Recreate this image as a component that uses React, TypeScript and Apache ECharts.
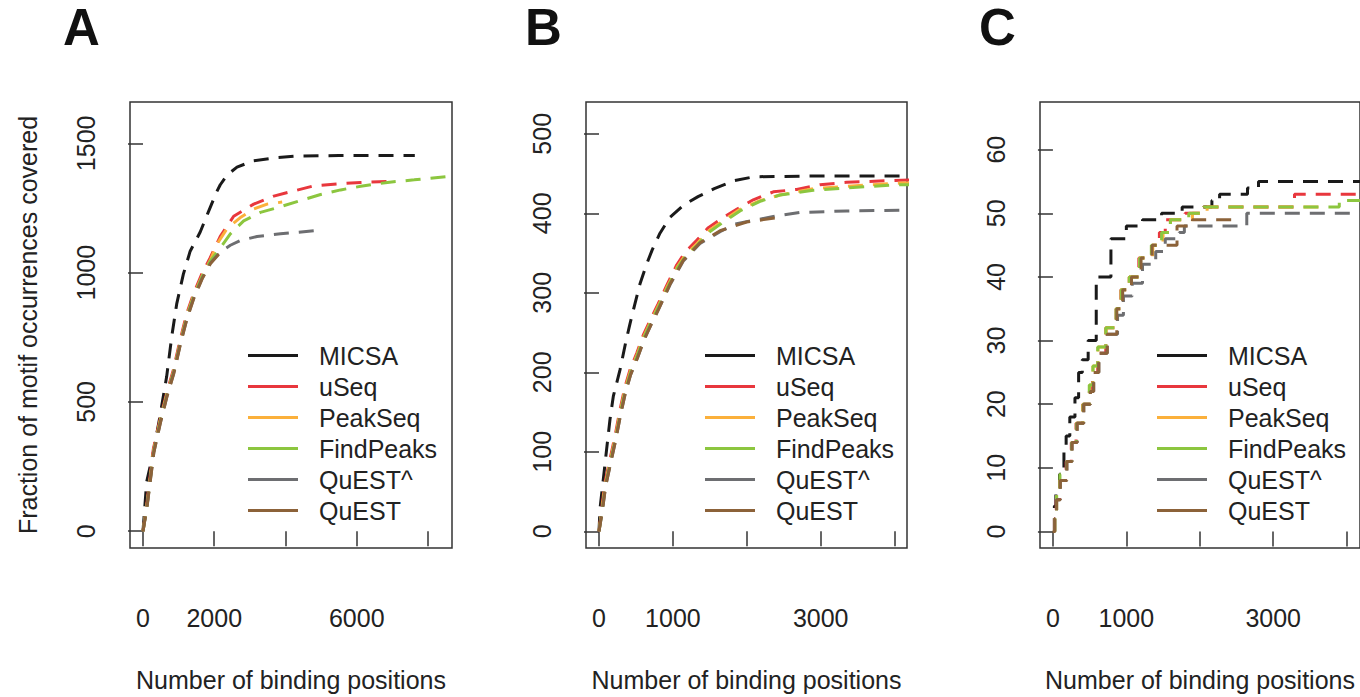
import { useEffect, useRef } from "react";
import * as echarts from "echarts";

type Pt = [number, number];

const methods = ["MICSA", "uSeq", "PeakSeq", "FindPeaks", "QuEST^", "QuEST"];
const colors = ["#1a1a1a", "#e8373d", "#fbb03b", "#8cc63f", "#6d6e71", "#8c6239"];

// Panel A: motif occurrences covered vs number of binding positions
const aMicsa: Pt[] = [[0, 0], [103, 191], [290, 306], [478, 446], [665, 599], [806, 752], [946, 879], [1133, 994], [1324, 1083], [1606, 1157], [1841, 1237], [2067, 1312], [2169, 1340], [2357, 1377], [2638, 1408], [3108, 1433], [3765, 1445], [4328, 1451], [5500, 1453], [7630, 1453]];
const aUseq: Pt[] = [[0, 0], [103, 102], [290, 318], [478, 433], [665, 535], [852, 624], [1040, 739], [1227, 841], [1414, 917], [1649, 994], [1883, 1057], [2169, 1140], [2545, 1218], [3108, 1265], [3671, 1296], [4234, 1316], [4797, 1336], [5455, 1343], [6112, 1349], [6863, 1353]];
const aPeakSeq: Pt[] = [[0, 0], [110, 98], [300, 312], [485, 428], [672, 530], [860, 618], [1048, 732], [1235, 834], [1420, 910], [1655, 986], [1890, 1048], [2075, 1110], [2357, 1170], [2733, 1213], [3108, 1246], [3484, 1265], [3906, 1273]];
const aFindPeaks: Pt[] = [[0, 0], [110, 96], [300, 310], [485, 426], [672, 528], [860, 616], [1048, 730], [1235, 832], [1420, 908], [1655, 984], [1890, 1045], [2169, 1095], [2451, 1150], [2826, 1200], [3296, 1233], [3859, 1255], [4422, 1279], [4985, 1302], [5548, 1320], [6112, 1334], [6863, 1349], [7613, 1359], [8700, 1374]];
const aQuestHat: Pt[] = [[0, 0], [112, 94], [305, 306], [490, 422], [676, 524], [864, 612], [1052, 726], [1240, 826], [1425, 902], [1660, 978], [1890, 1036], [2169, 1080], [2451, 1106], [2733, 1124], [3202, 1140], [3859, 1150], [4820, 1162]];
const aQuest: Pt[] = [[0, 0], [112, 93], [305, 305], [490, 420], [676, 522], [864, 610], [1052, 724], [1240, 824], [1425, 900], [1660, 976], [1890, 1034], [2120, 1070], [2350, 1092]];

// Panel B
const bMicsa: Pt[] = [[0, 0], [14, 29], [59, 66], [104, 104], [149, 141], [194, 170], [284, 203], [362, 238], [419, 261], [486, 286], [554, 311], [644, 336], [720, 354], [825, 375], [961, 395], [1141, 410], [1340, 421], [1560, 431], [1830, 441], [2100, 446], [3077, 447], [4200, 447]];
const bUseq: Pt[] = [[0, 0], [36, 29], [81, 62], [149, 91], [217, 120], [284, 153], [352, 182], [419, 203], [510, 224], [600, 247], [690, 265], [800, 286], [910, 308], [1051, 335], [1164, 351], [1322, 366], [1480, 382], [1683, 395], [1863, 405], [2088, 417], [2359, 427], [2675, 430], [2991, 436], [3352, 439], [3622, 440], [4200, 442]];
const bPeakSeq: Pt[] = [[0, 0], [40, 27], [86, 60], [154, 89], [222, 118], [289, 151], [357, 180], [424, 201], [515, 222], [605, 245], [695, 263], [805, 284], [915, 306], [1056, 332], [1170, 348], [1328, 362], [1486, 378], [1683, 391], [1908, 405], [2179, 416], [2449, 423], [2900, 431], [3352, 434], [4073, 438], [4200, 438]];
const bFindPeaks: Pt[] = [[0, 0], [42, 26], [88, 59], [156, 88], [224, 117], [291, 150], [359, 179], [426, 200], [517, 221], [607, 244], [697, 262], [807, 283], [917, 305], [1058, 331], [1172, 346], [1330, 360], [1488, 376], [1683, 389], [1908, 403], [2179, 415], [2449, 423], [2900, 429], [3352, 432], [4073, 436], [4200, 436]];
const bQuestHat: Pt[] = [[0, 0], [44, 25], [90, 57], [158, 86], [226, 115], [293, 147], [361, 176], [428, 197], [520, 218], [610, 241], [700, 259], [810, 280], [961, 310], [1141, 340], [1367, 362], [1638, 377], [1863, 387], [2088, 391], [2359, 396], [2720, 401], [3352, 403], [4200, 404]];
const bQuest: Pt[] = [[0, 0], [44, 25], [90, 57], [158, 86], [226, 115], [293, 147], [361, 176], [428, 197], [520, 218], [610, 241], [700, 259], [810, 280], [961, 311], [1141, 341], [1367, 363], [1638, 378], [1998, 389], [2449, 395]];

// Panel C (step curves)
const cMicsa: Pt[] = [[0, 0], [20, 4], [40, 6], [90, 9], [150, 13], [180, 15], [230, 18], [300, 21], [350, 25], [400, 27], [480, 30], [590, 40], [790, 46], [1000, 48], [1220, 49], [1480, 50], [1760, 51], [2165, 52], [2270, 53], [2650, 54], [2800, 55], [4200, 55]];
const cUseq: Pt[] = [[0, 0], [20, 2], [45, 5], [90, 8], [180, 11], [250, 14], [315, 17], [405, 20], [495, 22], [540, 25], [610, 28], [720, 32], [860, 35], [925, 38], [1040, 40], [1170, 43], [1350, 45], [1450, 47], [1530, 49], [1800, 50], [2050, 51], [3290, 53], [4200, 53]];
const cPeakSeq: Pt[] = [[0, 0], [25, 3], [50, 6], [95, 8], [185, 11], [255, 14], [320, 17], [410, 20], [500, 23], [545, 26], [615, 29], [725, 32], [865, 35], [930, 38], [1040, 40], [1180, 43], [1360, 45], [1500, 47], [1600, 49], [1900, 50], [2100, 51], [3750, 51]];
const cFindPeaks: Pt[] = [[0, 0], [25, 3], [50, 6], [95, 9], [185, 11], [255, 14], [320, 17], [410, 20], [495, 23], [545, 26], [610, 29], [720, 32], [860, 35], [930, 38], [1040, 40], [1180, 43], [1340, 45], [1480, 47], [1600, 49], [1850, 50], [2050, 51], [3900, 52], [4200, 52]];
const cQuestHat: Pt[] = [[0, 0], [25, 2], [50, 5], [100, 8], [190, 11], [260, 14], [330, 17], [420, 20], [510, 22], [555, 25], [625, 28], [740, 31], [880, 34], [960, 37], [1080, 39], [1220, 42], [1400, 44], [1530, 46], [1720, 47], [1790, 48], [2640, 50], [4200, 50]];
const cQuest: Pt[] = [[0, 0], [25, 2], [50, 5], [100, 8], [190, 11], [260, 14], [330, 17], [420, 20], [510, 22], [555, 25], [625, 28], [740, 31], [870, 35], [950, 38], [1070, 40], [1200, 43], [1350, 45], [1690, 48], [1900, 49], [2460, 49]];

const aSeries = [aMicsa, aUseq, aPeakSeq, aFindPeaks, aQuestHat, aQuest];
const bSeries = [bMicsa, bUseq, bPeakSeq, bFindPeaks, bQuestHat, bQuest];
const cSeries = [cMicsa, cUseq, cPeakSeq, cFindPeaks, cQuestHat, cQuest];

// Tick positions and labelled ticks
const aYTicks = [0, 500, 1000, 1500];
const aXTicks = [0, 2000, 4000, 6000, 8000];
const aXLabels = [0, 2000, 6000];
const bYTicks = [0, 100, 200, 300, 400, 500];
const bXTicks = [0, 1000, 2000, 3000, 4000];
const bXLabels = [0, 1000, 3000];
const cYTicks = [0, 10, 20, 30, 40, 50, 60];
const cXTicks = [0, 1000, 2000, 3000, 4000];
const cXLabels = [0, 1000, 3000];

const panelLetters = ["A", "B", "C"];

const FONT = "'Liberation Sans', Arial, sans-serif";
const TEXT = "#222";
const AXIS = "#333";

const panels = [
  { letter: panelLetters[0], series: aSeries, yTicks: aYTicks, xTicks: aXTicks, xLabels: aXLabels, xMin: -365, xMax: 8674, yMin: -65, yMax: 1660, left: 130, width: 322, titleLeft: 63, legendLeft: 248, step: false as const, yName: "Fraction of motif occurrences covered" },
  { letter: panelLetters[1], series: bSeries, yTicks: bYTicks, xTicks: bXTicks, xLabels: bXLabels, xMin: -176, xMax: 4168, yMin: -21, yMax: 540, left: 586, width: 321, titleLeft: 525, legendLeft: 705, step: false as const, yName: "" },
  { letter: panelLetters[2], series: cSeries, yTicks: cYTicks, xTicks: cXTicks, xLabels: cXLabels, xMin: -176, xMax: 4182, yMin: -2.6, yMax: 67.5, left: 1040, width: 322, titleLeft: 979, legendLeft: 1157, step: "end" as const, yName: "" },
];

const plain = (v: number) => String(v);

export default function App() {
  const ref = useRef<HTMLDivElement>(null);

  useEffect(() => {
    if (!ref.current) return;
    const chart = echarts.init(ref.current, null, { renderer: "svg" });

    const grid = panels.map((p) => ({
      left: p.left,
      top: 102,
      width: p.width,
      height: 452,
      show: true,
      borderColor: AXIS,
      borderWidth: 1.5,
      backgroundColor: "transparent",
    }));

    const xAxis = panels.map((p, i) => ({
      type: "value",
      gridIndex: i,
      min: p.xMin,
      max: p.xMax,
      axisLine: { show: false },
      splitLine: { show: false },
      axisTick: { show: true, customValues: p.xTicks, length: 15, lineStyle: { color: AXIS, width: 1.5 } },
      axisLabel: { customValues: p.xLabels, formatter: plain, margin: 57, fontSize: 25, color: TEXT, fontFamily: FONT },
      name: "Number of binding positions",
      nameLocation: "middle",
      nameGap: 119,
      nameTextStyle: { fontSize: 25, color: TEXT, fontFamily: FONT },
    }));

    const yAxis = panels.map((p, i) => ({
      type: "value",
      gridIndex: i,
      min: p.yMin,
      max: p.yMax,
      axisLine: { show: false },
      splitLine: { show: false },
      axisTick: { show: true, customValues: p.yTicks, length: 15, lineStyle: { color: AXIS, width: 1.5 } },
      axisLabel: { customValues: p.yTicks, formatter: plain, rotate: 90, margin: 32, fontSize: 25, color: TEXT, fontFamily: FONT },
      name: p.yName,
      nameLocation: "middle",
      nameGap: 90,
      nameTextStyle: { fontSize: 25, color: TEXT, fontFamily: FONT },
    }));

    const series: any[] = [];
    panels.forEach((p, i) => {
      p.series.forEach((data, k) => {
        series.push({
          type: "line",
          name: methods[k],
          xAxisIndex: i,
          yAxisIndex: i,
          data,
          step: p.step,
          showSymbol: false,
          symbol: "none",
          color: colors[k],
          lineStyle: { color: colors[k], width: 3, type: [15, 10], cap: "butt" },
          z: 2 + k,
        });
      });
    });

    const legend = panels.map((p) => ({
      data: methods,
      orient: "vertical",
      left: p.legendLeft,
      top: 340,
      padding: 0,
      itemGap: 0,
      itemWidth: 50,
      itemHeight: 3,
      icon: "rect",
      selectedMode: false,
      itemStyle: { borderWidth: 0 },
      textStyle: { fontSize: 25, color: TEXT, fontFamily: FONT, lineHeight: 31, padding: [0, 0, 0, 16] },
    }));

    const title = panels.map((p) => ({
      text: p.letter,
      left: p.titleLeft,
      top: 0,
      padding: 0,
      textStyle: { fontSize: 51, fontWeight: "bold", color: "#111", fontFamily: FONT, lineHeight: 54 },
    }));

    chart.setOption({
      animation: false,
      backgroundColor: "#ffffff",
      title,
      legend,
      grid,
      xAxis,
      yAxis,
      series,
    } as any);

    return () => chart.dispose();
  }, []);

  return <div ref={ref} style={{ position: "absolute", left: 0, top: 0, width: 1360, height: 697 }} />;
}
